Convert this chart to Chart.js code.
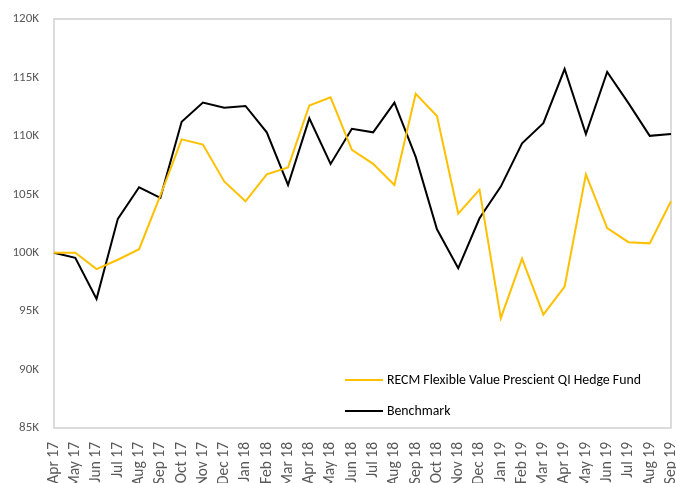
<!DOCTYPE html>
<html>
<head>
<meta charset="utf-8">
<script src="https://cdn.jsdelivr.net/npm/chart.js@4/dist/chart.umd.min.js"></script>
<style>
  html, body { margin: 0; padding: 0; background: #fff; }
  #wrap { width: 676px; height: 483px; position: relative; }
</style>
</head>
<body>
<div id="wrap"><canvas id="chart"></canvas></div>
<script>
// Months along the bottom
var months = ['Apr 17', 'May 17', 'Jun 17', 'Jul 17', 'Aug 17', 'Sep 17', 'Oct 17', 'Nov 17', 'Dec 17',
    'Jan 18', 'Feb 18', 'Mar 18', 'Apr 18', 'May 18', 'Jun 18', 'Jul 18', 'Aug 18', 'Sep 18', 'Oct 18',
    'Nov 18', 'Dec 18', 'Jan 19', 'Feb 19', 'Mar 19', 'Apr 19', 'May 19', 'Jun 19', 'Jul 19', 'Aug 19', 'Sep 19'];

// Growth of 100K
var fundValues = [100000, 100000, 98600, 99400, 100300, 104900, 109700, 109250, 106100,
    104400, 106700, 107300, 112600, 113300, 108800, 107600, 105800, 113600, 111700,
    103350, 105400, 94400, 99500, 94700, 97100, 106700, 102100, 100900, 100800, 104400];
var benchmarkValues = [100000, 99560, 96050, 102900, 105600, 104700, 111200, 112850, 112400,
    112560, 110300, 105800, 111500, 107600, 110600, 110300, 112850, 108200, 102000,
    98670, 102950, 105660, 109360, 111080, 115720, 110160, 115470, 112800, 110000, 110160];

var fundLabel = 'RECM Flexible Value Prescient QI Hedge Fund';
var benchmarkLabel = 'Benchmark';

var yTicks = [85000, 90000, 95000, 100000, 105000, 110000, 115000, 120000];

var fontFamily = 'Carlito, "Liberation Sans Narrow", "DejaVu Sans Condensed", sans-serif';

// Grey frame round the plot area
var framePlugin = {
    id: 'frame',
    beforeDatasetsDraw: function(chart) {
        var a = chart.chartArea, ctx = chart.ctx;
        ctx.save();
        ctx.strokeStyle = '#d0d0d0';
        ctx.lineWidth = 1.5;
        ctx.strokeRect(a.left, a.top, a.right - a.left, a.bottom - a.top);
        ctx.restore();
    }
};

// Legend sits inside the plot, bottom right
var innerLegend = {
    id: 'innerLegend',
    afterDraw: function(chart) {
        var ctx = chart.ctx;
        var x = 345, y = 380, rowGap = 31;
        ctx.save();
        ctx.font = '13.8px ' + fontFamily;
        ctx.textBaseline = 'middle';
        chart.data.datasets.forEach(function(ds, i) {
            var yy = y + i * rowGap;
            ctx.strokeStyle = ds.borderColor;
            ctx.lineWidth = 2;
            ctx.beginPath();
            ctx.moveTo(x, yy);
            ctx.lineTo(x + 38, yy);
            ctx.stroke();
            ctx.fillStyle = '#000';
            ctx.fillText(ds.label, x + 42, yy + 1);
        });
        ctx.restore();
    }
};

new Chart(document.getElementById('chart'), {
    type: 'line',
    data: {
        labels: months,
        datasets: [
            {
                label: fundLabel,
                data: fundValues,
                borderColor: '#ffc000',
                borderWidth: 2,
                pointRadius: 0,
                tension: 0
            },
            {
                label: benchmarkLabel,
                data: benchmarkValues,
                borderColor: '#000000',
                borderWidth: 2,
                pointRadius: 0,
                tension: 0
            }
        ]
    },
    options: {
        responsive: true,
        maintainAspectRatio: false,
        animation: false,
        layout: { padding: { top: 19, right: 5, left: 0, bottom: 0 } },
        plugins: {
            legend: { display: false },
            tooltip: { enabled: false }
        },
        scales: {
            x: {
                offset: false,
                grid: { display: false },
                border: { display: false },
                ticks: {
                    autoSkip: false,
                    minRotation: 90,
                    maxRotation: 90,
                    padding: 6,
                    color: '#595959',
                    font: { family: fontFamily, size: 15.5 }
                },
                afterFit: function(scale) {
                    scale.height = 55;
                    scale.paddingLeft = 0;
                    scale.paddingRight = 0;
                }
            },
            y: {
                min: 85000,
                max: 120000,
                grid: { display: false },
                border: { display: false },
                afterBuildTicks: function(scale) {
                    scale.ticks = yTicks.map(function(v) { return { value: v }; });
                },
                ticks: {
                    padding: 7,
                    color: '#595959',
                    font: { family: fontFamily, size: 13 },
                    callback: function(v) { return (v / 1000) + 'K'; }
                },
                afterFit: function(scale) { scale.width = 54; }
            }
        }
    },
    plugins: [framePlugin, innerLegend]
});
</script>
</body>
</html>
